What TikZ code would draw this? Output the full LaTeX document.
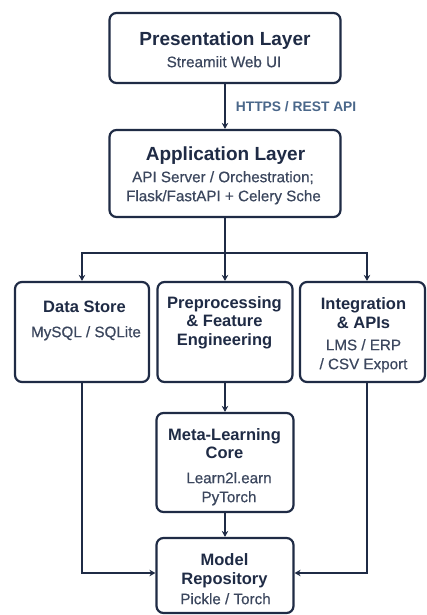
\documentclass[tikz,border=0pt]{standalone}
\usepackage{fontspec}
\setmainfont{Liberation Sans}
\newfontfamily\subfont[FakeBold=0.5]{Liberation Sans}
\usetikzlibrary{arrows.meta,calc}
\definecolor{navy}{HTML}{1F2B45}
\definecolor{subc}{HTML}{3C475E}
\definecolor{labc}{HTML}{4A678A}
\begin{document}
\begin{tikzpicture}[x=1pt,y=-1pt,
  box/.style={draw=navy,line width=2.2pt,rounded corners=7pt,inner sep=0pt,fill=white},
  ttl/.style={text=navy,font=\bfseries\fontsize{19}{19}\selectfont,inner sep=0pt,anchor=base},
  bttl/.style={text=navy,font=\bfseries\fontsize{16.5}{19}\selectfont,inner sep=0pt,anchor=base},
  stl/.style={text=subc,font=\subfont\fontsize{15.2}{19}\selectfont,inner sep=0pt,anchor=base},
  conn/.style={draw=navy,line width=1.8pt},
  arr/.style={conn,-{Stealth[length=6pt,width=6.5pt]}}]
\fill[white] (0,0) rectangle (426,615);
\useasboundingbox (0,0) rectangle (426,615);
% boxes
\node[box,minimum width=231pt,minimum height=70pt] (pres) at (225,48) {};
\node[box,minimum width=231pt,minimum height=87pt] (app) at (225,173.5) {};
\node[box,minimum width=134pt,minimum height=100pt] (ds) at (82,332) {};
\node[box,minimum width=135pt,minimum height=100pt] (pre) at (225,332) {};
\node[box,minimum width=125pt,minimum height=100pt] (int) at (362.5,332) {};
\node[box,minimum width=137pt,minimum height=99pt] (meta) at (225,462.5) {};
\node[box,minimum width=137pt,minimum height=75pt] (model) at (225,575.5) {};
% texts
\node[ttl] (presT) at (225,45.6) {Presentation Layer};
\node[stl] (presS) at (224,67.2) {Streamiit Web UI};
\node[ttl] (appT) at (225.5,160.6) {Application Layer};
\node[stl] (appS1) at (223,182.2) {API Server / Orchestration;};
\node[stl] (appS2) at (223.5,201.2) {Flask/FastAPI + Celery Sche};
\node[bttl] (dsT) at (84.5,312.7) {Data Store};
\node[stl] (dsS) at (86,337.2) {MySQL / SQLite};
\node[bttl] (preT1) at (224.5,308.7) {Preprocessing};
\node[bttl] (preT2) at (224.5,326.7) {\& Feature};
\node[bttl] (preT3) at (224.5,345.7) {Engineering};
\node[bttl] (intT1) at (363.5,309.7) {Integration};
\node[bttl] (intT2) at (363.5,328.7) {\& APIs};
\node[stl] (intS1) at (363.5,350.2) {LMS / ERP};
\node[stl] (intS2) at (363.5,369.2) {/ CSV Export};
\node[bttl] (metaT1) at (224.5,440.7) {Meta-Learning};
\node[bttl] (metaT2) at (224.5,458.7) {Core};
\node[stl] (metaS1) at (229,483.2) {Learn2l.earn};
\node[stl] (metaS2) at (229,502.2) {PyTorch};
\node[bttl] (modT1) at (224.5,565.7) {Model};
\node[bttl] (modT2) at (224.5,584.7) {Repository};
\node[stl] (modS) at (225.5,604.2) {Pickle / Torch};
% connectors
\draw[arr] (pres.south) -- (app.north)
  node[midway,anchor=west,xshift=10pt,inner sep=0pt,text=labc,font=\bfseries\fontsize{13.8}{16}\selectfont] (lab) {HTTPS / REST API};
\coordinate (j) at (225,253);
\draw[conn] (app.south) -- (j);
\draw[arr] (j) -| (ds.north);
\draw[arr] (j) -- (pre.north);
\draw[arr] (j) -| ($(int.north)+(4.5,0)$);
\draw[arr] (pre.south) -- (meta.north);
\draw[arr] (meta.south) -- (model.north);
\draw[arr] (ds.south) |- ($(model.west)+(0,-2.5)$);
\draw[arr] ($(int.south)+(4.5,0)$) |- ($(model.east)+(0,-2.5)$);
\end{tikzpicture}
\end{document}
